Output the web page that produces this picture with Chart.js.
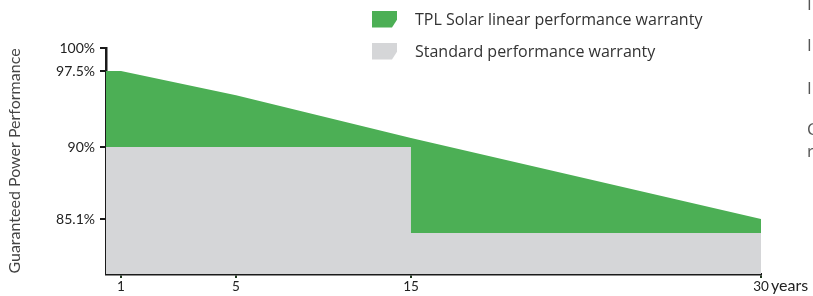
<!DOCTYPE html>
<html>
<head>
<meta charset="utf-8">
<script src="https://cdn.jsdelivr.net/npm/chart.js@4"></script>
<style>
    body { margin: 0; background: #fff; overflow: hidden; }
    #wrap { position: relative; width: 813px; height: 296px; overflow: hidden; }
    #legend { position: absolute; left: 372px; top: 10px; font-family: 'Open Sans', sans-serif; font-size: 16px; color: #333; }
    .item { display: flex; align-items: center; height: 18px; margin-bottom: 14px; }
    .box { width: 25px; height: 17px; margin-right: 18px; clip-path: polygon(0 0, 100% 0, 100% 55%, 80% 100%, 0 100%); }
    .side { position: absolute; left: 807px; font-family: 'Open Sans', sans-serif; font-size: 17px; color: #555; }
    #years { position: absolute; left: 771px; top: 275px; font-family: 'Lato', sans-serif; font-size: 16px; color: #222; }
</style>
</head>
<body>
<div id="wrap">
    <canvas id="warrantyChart"></canvas>
    <div id="legend"></div>
    <span class="side" style="top:-8px">I</span>
    <span class="side" style="top:33px">I</span>
    <span class="side" style="top:76px">I</span>
    <span class="side" style="top:117px">C</span>
    <span class="side" style="top:139px">r</span>
    <span id="years">years</span>
</div>
<script>
const xTickYears = [1, 5, 15, 30];
const yTickValues = [85.1, 90, 97.5, 100];
const tplYears = [0, 1, 5, 15, 30];
const tplValues = [97.5, 97.5, 95.1, 90.9, 85.1];
const stdYears = [0, 15, 15, 30];
const stdValues = [90, 90, 83.8, 83.8];
const seriesLabels = ['TPL Solar linear performance warranty', 'Standard performance warranty'];
const seriesColors = ['#4caf55', '#d5d6d8'];

// the picture does not space its axes evenly, so map values piece by piece
function toDecimal(v, vals, fracs) {
    let i = 0;
    while (i < vals.length - 2 && v > vals[i + 1]) i++;
    return fracs[i] + (v - vals[i]) / (vals[i + 1] - vals[i]) * (fracs[i + 1] - fracs[i]);
}
function fromDecimal(d, vals, fracs) {
    let i = 0;
    while (i < fracs.length - 2 && d > fracs[i + 1]) i++;
    return vals[i] + (d - fracs[i]) / (fracs[i + 1] - fracs[i]) * (vals[i + 1] - vals[i]);
}

class PiecewiseScale extends Chart.LinearScale {
    getPixelForValue(value) {
        if (value === null || isNaN(value)) return NaN;
        return this.getPixelForDecimal(toDecimal(value, this.options.knotValues, this.options.knotFracs));
    }
    getValueForPixel(pixel) {
        return fromDecimal(this.getDecimalForPixel(pixel), this.options.knotValues, this.options.knotFracs);
    }
}
PiecewiseScale.id = 'piecewise';
PiecewiseScale.defaults = Chart.LinearScale.defaults;
Chart.register(PiecewiseScale);

const legendEl = document.getElementById('legend');
seriesLabels.forEach((label, i) => {
    const row = document.createElement('div');
    row.className = 'item';
    row.innerHTML = '<span class="box" style="background:' + seriesColors[i] + '"></span><span>' + label + '</span>';
    legendEl.appendChild(row);
});

const ctx = document.getElementById('warrantyChart').getContext('2d');
window.warrantyChart = new Chart(ctx, {
    type: 'line',
    data: {
        datasets: [
            {
                label: seriesLabels[0],
                data: tplYears.map((x, i) => ({ x: x, y: tplValues[i] })),
                backgroundColor: seriesColors[0],
                borderWidth: 0,
                pointRadius: 0,
                tension: 0,
                fill: 1
            },
            {
                label: seriesLabels[1],
                data: stdYears.map((x, i) => ({ x: x, y: stdValues[i] })),
                backgroundColor: seriesColors[1],
                borderWidth: 0,
                pointRadius: 0,
                tension: 0,
                fill: 'start'
            }
        ]
    },
    options: {
        responsive: true,
        maintainAspectRatio: false,
        animation: false,
        layout: { padding: { top: 48, right: 52, bottom: 0, left: 0 } },
        plugins: {
            legend: { display: false },
            tooltip: { enabled: false }
        },
        scales: {
            x: {
                type: 'piecewise',
                min: 0,
                max: 30,
                knotValues: [0, 1, 5, 15, 30],
                knotFracs: [0, 0.0229, 0.1985, 0.4656, 1],
                afterBuildTicks: scale => { scale.ticks = xTickYears.map(v => ({ value: v })); },
                afterFit: scale => { scale.height = 22; },
                border: { display: true, color: '#1a1a1a', width: 2.5 },
                grid: { drawOnChartArea: false, drawTicks: true, tickLength: 4, color: '#1f3a1f', lineWidth: 2 },
                ticks: {
                    color: '#222',
                    padding: 1,
                    maxRotation: 0,
                    autoSkip: false,
                    font: { family: 'Lato', size: 13.5 }
                }
            },
            y: {
                type: 'piecewise',
                min: 80,
                max: 100,
                knotValues: [80, 85.1, 90, 97.5, 100],
                knotFracs: [0, 0.2434, 0.5619, 0.8982, 1],
                afterBuildTicks: scale => { scale.ticks = yTickValues.map(v => ({ value: v })); },
                afterFit: scale => { scale.width = 106; },
                border: { display: true, color: '#1a1a1a', width: 2.5 },
                grid: { drawOnChartArea: false, drawTicks: true, tickLength: 6, color: '#1a1a1a', lineWidth: 2 },
                title: {
                    display: true,
                    text: 'Guaranteed Power Performance',
                    color: '#444',
                    padding: { top: 5, bottom: 0 },
                    font: { family: 'Lato', size: 16 }
                },
                ticks: {
                    color: '#222',
                    padding: 5,
                    autoSkip: false,
                    font: { family: 'Lato', size: 14 },
                    callback: v => v + '%'
                }
            }
        }
    }
});
</script>
</body>
</html>
